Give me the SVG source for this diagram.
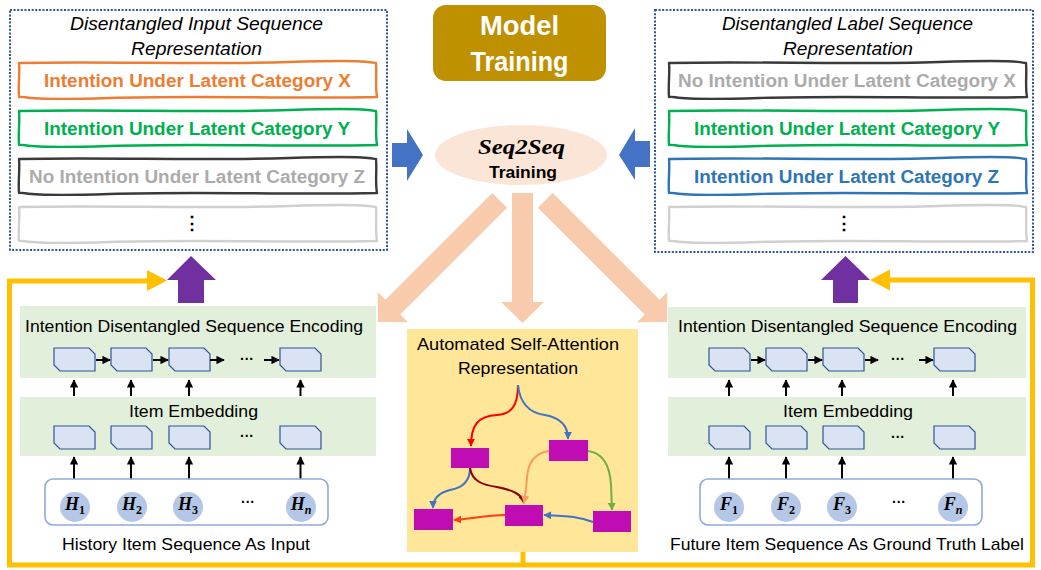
<svg xmlns="http://www.w3.org/2000/svg" xmlns:xlink="http://www.w3.org/1999/xlink" width="1041" height="570" viewBox="0 0 1041 570">
  <style>
    text { font-family: "Liberation Sans", Arial, sans-serif; fill: #000; }
    .ttl { font-style: italic; font-size: 18px; text-anchor: middle; }
    .lbl { font-weight: bold; font-size: 18px; text-anchor: middle; }
    .cap { font-size: 17px; text-anchor: middle; }
    .dots { font-weight: bold; font-size: 14px; text-anchor: middle; }
    .sym { font-family: "Liberation Serif", "Times New Roman", serif; font-weight: bold; font-style: italic; font-size: 18px; text-anchor: middle; }
    .sub { font-style: normal; font-size: 12px; }
    .dotted { fill: #fff; stroke: #2F5597; stroke-width: 2; stroke-dasharray: 2 1.6; }
    .wavy { fill: #fff; stroke-width: 2.4; stroke-linejoin: round; }
    .band { fill: #E2EFDA; }
    .cell { fill: #DAE3F3; stroke: #2F5597; stroke-width: 1.2; }
    .seqbox { fill: #fff; stroke: #8FAADC; stroke-width: 1.6; }
    .item { fill: #B4C7E7; }
    .blk { stroke: #000; stroke-width: 2; fill: none; }
    .yl { stroke: #FFC000; stroke-width: 5; fill: none; }
    .peach { fill: #F8CBAD; }
    .node { fill: #C00DB3; }
    .att { fill: none; stroke-width: 2; }
  </style>
  <defs>
    <!-- hand-drawn outline for the representation rows -->
    <path id="wbox" d="M0,0 C90,-2 180,2 270,-1 S350,0 357,0 C358,12 356,23 358,34 C270,36 180,32 90,35 S10,33 0,34 C-1,22 1,11 0,0 Z"/>
    <!-- snipped-corner embedding cell -->
    <path id="cell" d="M0,0 H35 L41,6 V23 H6 L0,17 Z"/>
    <!-- wide block arrow, tip at origin, pointing down -->
    <polygon id="bigArrow" points="-10.5,-172 10.5,-172 10.5,-21 21.5,-21 0,0 -21.5,-21 -10.5,-21"/>
    <marker id="mBlk" viewBox="0 0 10 10" refX="9" refY="5" markerWidth="4.2" markerHeight="4.2" orient="auto" markerUnits="strokeWidth">
      <path d="M0,0 L10,5 L0,10 Z" fill="#000"/>
    </marker>
    <marker id="mRed" viewBox="0 0 10 10" refX="9" refY="5" markerWidth="4" markerHeight="4" orient="auto" markerUnits="strokeWidth">
      <path d="M0,0 L10,5 L0,10 Z" fill="#FF0000"/>
    </marker>
    <marker id="mBlue" viewBox="0 0 10 10" refX="9" refY="5" markerWidth="4" markerHeight="4" orient="auto" markerUnits="strokeWidth">
      <path d="M0,0 L10,5 L0,10 Z" fill="#4472C4"/>
    </marker>
    <marker id="mDark" viewBox="0 0 10 10" refX="9" refY="5" markerWidth="4" markerHeight="4" orient="auto" markerUnits="strokeWidth">
      <path d="M0,0 L10,5 L0,10 Z" fill="#8B0000"/>
    </marker>
    <marker id="mOrange" viewBox="0 0 10 10" refX="9" refY="5" markerWidth="4" markerHeight="4" orient="auto" markerUnits="strokeWidth">
      <path d="M0,0 L10,5 L0,10 Z" fill="#F79B5E"/>
    </marker>
    <marker id="mGreen" viewBox="0 0 10 10" refX="9" refY="5" markerWidth="4" markerHeight="4" orient="auto" markerUnits="strokeWidth">
      <path d="M0,0 L10,5 L0,10 Z" fill="#70AD47"/>
    </marker>
    <marker id="mRedOr" viewBox="0 0 10 10" refX="9" refY="5" markerWidth="4" markerHeight="4" orient="auto" markerUnits="strokeWidth">
      <path d="M0,0 L10,5 L0,10 Z" fill="#FF3C14"/>
    </marker>
  </defs>

  <rect width="1041" height="570" fill="#fff"/>

  <!-- feedback loop and flow connectors -->
  <g id="connectors">
    <path class="yl" d="M9.5,565 V281 H150"/>
    <polygon points="147,270 167,280.5 147,291" fill="#FFC000"/>
    <path class="yl" d="M1032.5,565 V280 H889"/>
    <polygon points="890,269.5 870,280 890,290.5" fill="#FFC000"/>
    <path class="yl" d="M7,565 H1035"/>
    <path class="yl" d="M523,552 V565"/>

    <!-- purple: encodings up to representations -->
    <polygon points="178,303 204,303 204,280 216,280 191,256 167,280 178,280" fill="#7030A0"/>
    <polygon points="833,303 858,303 858,280 870,280 845.5,256 821,280 833,280" fill="#7030A0"/>

    <!-- blue: representations into Seq2Seq -->
    <polygon points="392,143 407,143 407,129 423,155 407,181 407,167 392,167" fill="#4472C4"/>
    <polygon points="650,141 635,141 635,128 619,155 635,180 635,167 650,167" fill="#4472C4"/>

    <!-- peach: training drives the three modules -->
    <use href="#bigArrow" class="peach" transform="translate(378,322) rotate(45)"/>
    <polygon class="peach" points="512,193 533,193 533,302 544,302 522.5,323 501,302 512,302"/>
    <use href="#bigArrow" class="peach" transform="translate(667,322) rotate(-45)"/>
  </g>

  <!-- input-side representation -->
  <g id="input-representation">
    <rect class="dotted" x="10" y="10" width="377" height="240"/>
    <text class="ttl" x="196.5" y="29.5" textLength="253" lengthAdjust="spacingAndGlyphs">Disentangled Input Sequence</text>
    <text class="ttl" x="196.5" y="54.5" textLength="131" lengthAdjust="spacingAndGlyphs">Representation</text>
    <use href="#wbox" class="wavy" x="19" y="63" stroke="#ED7D31"/>
    <text class="lbl" x="197.5" y="87" style="fill:#ED7D31" textLength="307" lengthAdjust="spacingAndGlyphs">Intention Under Latent Category X</text>
    <use href="#wbox" class="wavy" x="19" y="111" stroke="#00B050"/>
    <text class="lbl" x="197" y="135" style="fill:#00B050" textLength="306" lengthAdjust="spacingAndGlyphs">Intention Under Latent Category Y</text>
    <use href="#wbox" class="wavy" x="19" y="159" stroke="#3A3A3A"/>
    <text class="lbl" x="197" y="183" style="fill:#ABABAB" textLength="336" lengthAdjust="spacingAndGlyphs">No Intention Under Latent Category Z</text>
    <use href="#wbox" class="wavy" x="19" y="207" stroke="#D0D0D0"/>
    <text class="dots" x="192" y="229" style="font-size:18px">⋮</text>
  </g>

  <!-- label-side representation -->
  <g id="label-representation">
    <rect class="dotted" x="655" y="10" width="378" height="242"/>
    <text class="ttl" x="847.5" y="29.5" textLength="251" lengthAdjust="spacingAndGlyphs">Disentangled Label Sequence</text>
    <text class="ttl" x="848" y="54.5" textLength="130" lengthAdjust="spacingAndGlyphs">Representation</text>
    <use href="#wbox" class="wavy" x="669" y="63" stroke="#3A3A3A"/>
    <text class="lbl" x="847" y="87" style="fill:#ABABAB" textLength="338" lengthAdjust="spacingAndGlyphs">No Intention Under Latent Category X</text>
    <use href="#wbox" class="wavy" x="669" y="111" stroke="#00B050"/>
    <text class="lbl" x="847" y="135" style="fill:#00B050" textLength="306" lengthAdjust="spacingAndGlyphs">Intention Under Latent Category Y</text>
    <use href="#wbox" class="wavy" x="669" y="159" stroke="#2E75B6"/>
    <text class="lbl" x="846.5" y="183" style="fill:#2E75B6" textLength="305" lengthAdjust="spacingAndGlyphs">Intention Under Latent Category Z</text>
    <use href="#wbox" class="wavy" x="669" y="207" stroke="#D0D0D0"/>
    <text class="dots" x="844" y="229" style="font-size:18px">⋮</text>
  </g>

  <!-- header -->
  <g id="model-training">
    <rect x="433" y="5" width="173" height="76" rx="13" fill="#BF9000"/>
    <text x="519.5" y="35" style="fill:#fff;font-weight:bold;font-size:27px;text-anchor:middle" textLength="79" lengthAdjust="spacingAndGlyphs">Model</text>
    <text x="519.5" y="71" style="fill:#fff;font-weight:bold;font-size:27px;text-anchor:middle" textLength="98" lengthAdjust="spacingAndGlyphs">Training</text>
  </g>

  <!-- Seq2Seq objective -->
  <g id="seq2seq">
    <ellipse cx="521" cy="155" rx="86" ry="30" fill="#FBE5D6"/>
    <text class="sym" x="521.5" y="154" style="font-size:21px" textLength="87" lengthAdjust="spacingAndGlyphs">Seq2Seq</text>
    <text x="523" y="178" style="font-weight:bold;font-size:17px;text-anchor:middle" textLength="68" lengthAdjust="spacingAndGlyphs">Training</text>
  </g>

  <!-- history encoder -->
  <g id="history-encoder">
    <rect class="band" x="20" y="306" width="356" height="72"/>
    <text class="cap" x="194" y="332" textLength="338" lengthAdjust="spacingAndGlyphs">Intention Disentangled Sequence Encoding</text>
    <use href="#cell" class="cell" x="54" y="348"/>
    <use href="#cell" class="cell" x="111" y="348"/>
    <use href="#cell" class="cell" x="169" y="348"/>
    <use href="#cell" class="cell" x="280" y="348"/>
    <path class="blk" d="M96,360 H110" marker-end="url(#mBlk)"/>
    <path class="blk" d="M153,360 H168" marker-end="url(#mBlk)"/>
    <path class="blk" d="M210,360 H224" marker-end="url(#mBlk)"/>
    <text class="dots" x="247" y="364">···</text>
    <path class="blk" d="M264,360 H279" marker-end="url(#mBlk)"/>

    <path class="blk" d="M74,396 V380" marker-end="url(#mBlk)"/>
    <path class="blk" d="M131,396 V380" marker-end="url(#mBlk)"/>
    <path class="blk" d="M189,396 V380" marker-end="url(#mBlk)"/>
    <path class="blk" d="M300.5,396 V380" marker-end="url(#mBlk)"/>

    <rect class="band" x="20" y="397" width="356" height="59"/>
    <text class="cap" x="193.5" y="417" textLength="129" lengthAdjust="spacingAndGlyphs">Item Embedding</text>
    <use href="#cell" class="cell" x="54" y="426"/>
    <use href="#cell" class="cell" x="111" y="426"/>
    <use href="#cell" class="cell" x="169" y="426"/>
    <use href="#cell" class="cell" x="280" y="426"/>
    <text class="dots" x="247" y="441">···</text>

    <path class="blk" d="M74,480 V457" marker-end="url(#mBlk)"/>
    <path class="blk" d="M131,480 V457" marker-end="url(#mBlk)"/>
    <path class="blk" d="M189,480 V457" marker-end="url(#mBlk)"/>
    <path class="blk" d="M300.5,480 V457" marker-end="url(#mBlk)"/>

    <rect class="seqbox" x="45" y="479" width="283" height="46" rx="8"/>
    <circle class="item" cx="75" cy="507" r="15"/>
    <circle class="item" cx="132" cy="507" r="15"/>
    <circle class="item" cx="188" cy="507" r="15"/>
    <circle class="item" cx="301" cy="507" r="15"/>
    <text class="sym" x="75" y="510">H<tspan class="sub" dy="4">1</tspan></text>
    <text class="sym" x="132" y="510">H<tspan class="sub" dy="4">2</tspan></text>
    <text class="sym" x="188" y="510">H<tspan class="sub" dy="4">3</tspan></text>
    <text class="sym" x="301" y="510">H<tspan class="sub" dy="4" style="font-style:italic">n</tspan></text>
    <text class="dots" x="248" y="507">···</text>
    <text class="cap" x="186" y="550" textLength="248" lengthAdjust="spacingAndGlyphs">History Item Sequence As Input</text>
  </g>

  <!-- self-attention module -->
  <g id="self-attention">
    <rect x="407" y="329" width="231" height="223" fill="#FFE699"/>
    <text class="cap" x="518" y="350" textLength="202" lengthAdjust="spacingAndGlyphs">Automated Self-Attention</text>
    <text class="cap" x="518" y="374" textLength="120" lengthAdjust="spacingAndGlyphs">Representation</text>
    <path class="att" stroke="#FF0000" d="M518,385 C518,405 512,414 497,415 C478,416 471,425 471,446" marker-end="url(#mRed)"/>
    <path class="att" stroke="#4472C4" d="M518,385 C520,405 530,413 545,415 C562,418 568,427 568,439" marker-end="url(#mBlue)"/>
    <path class="att" stroke="#4472C4" d="M470,468 C470,482 462,488 450,490 C438,493 433,500 433,508" marker-end="url(#mBlue)"/>
    <path class="att" stroke="#8B0000" d="M470,468 C472,482 484,485 497,487 C512,490 522,494 524,503" marker-end="url(#mDark)"/>
    <path class="att" stroke="#F79B5E" d="M549,451 C535,453 528,462 527,478 C526,490 525,497 524,503" marker-end="url(#mOrange)"/>
    <path class="att" stroke="#70AD47" d="M588,451 C604,453 610,468 611,485 L612,510" marker-end="url(#mGreen)"/>
    <path class="att" stroke="#4472C4" d="M593,522 C580,517 570,516 544,515" marker-end="url(#mBlue)"/>
    <path class="att" stroke="#FF3C14" d="M505,515 C488,515 470,519 454,520" marker-end="url(#mRedOr)"/>
    <rect class="node" x="451" y="448" width="38" height="20"/>
    <rect class="node" x="549" y="440" width="39" height="21"/>
    <rect class="node" x="414" y="509" width="39" height="21"/>
    <rect class="node" x="505" y="505" width="38" height="21"/>
    <rect class="node" x="593" y="511" width="38" height="21"/>
  </g>

  <!-- future encoder -->
  <g id="future-encoder">
    <rect class="band" x="668" y="307" width="358" height="71"/>
    <text class="cap" x="847.5" y="332" textLength="339" lengthAdjust="spacingAndGlyphs">Intention Disentangled Sequence Encoding</text>
    <use href="#cell" class="cell" x="709" y="348"/>
    <use href="#cell" class="cell" x="766" y="348"/>
    <use href="#cell" class="cell" x="823" y="348"/>
    <use href="#cell" class="cell" x="934" y="348"/>
    <path class="blk" d="M751,360 H765" marker-end="url(#mBlk)"/>
    <path class="blk" d="M808,360 H822" marker-end="url(#mBlk)"/>
    <path class="blk" d="M865,360 H878" marker-end="url(#mBlk)"/>
    <text class="dots" x="898" y="364">···</text>
    <path class="blk" d="M919,360 H933" marker-end="url(#mBlk)"/>

    <path class="blk" d="M729,396 V380" marker-end="url(#mBlk)"/>
    <path class="blk" d="M786,396 V380" marker-end="url(#mBlk)"/>
    <path class="blk" d="M842,396 V380" marker-end="url(#mBlk)"/>
    <path class="blk" d="M953,396 V380" marker-end="url(#mBlk)"/>

    <rect class="band" x="668" y="397" width="358" height="59"/>
    <text class="cap" x="848" y="417" textLength="130" lengthAdjust="spacingAndGlyphs">Item Embedding</text>
    <use href="#cell" class="cell" x="709" y="426"/>
    <use href="#cell" class="cell" x="766" y="426"/>
    <use href="#cell" class="cell" x="823" y="426"/>
    <use href="#cell" class="cell" x="934" y="426"/>
    <text class="dots" x="898" y="442">···</text>

    <path class="blk" d="M729,480 V457" marker-end="url(#mBlk)"/>
    <path class="blk" d="M786,480 V457" marker-end="url(#mBlk)"/>
    <path class="blk" d="M842,480 V457" marker-end="url(#mBlk)"/>
    <path class="blk" d="M953,480 V457" marker-end="url(#mBlk)"/>

    <rect class="seqbox" x="700" y="479" width="282" height="46" rx="8"/>
    <circle class="item" cx="729" cy="507" r="15"/>
    <circle class="item" cx="786" cy="507" r="15"/>
    <circle class="item" cx="842" cy="507" r="15"/>
    <circle class="item" cx="953" cy="507" r="15"/>
    <text class="sym" x="729" y="510">F<tspan class="sub" dy="4">1</tspan></text>
    <text class="sym" x="786" y="510">F<tspan class="sub" dy="4">2</tspan></text>
    <text class="sym" x="842" y="510">F<tspan class="sub" dy="4">3</tspan></text>
    <text class="sym" x="953" y="510">F<tspan class="sub" dy="4" style="font-style:italic">n</tspan></text>
    <text class="dots" x="899" y="507">···</text>
    <text class="cap" x="847" y="550" textLength="354" lengthAdjust="spacingAndGlyphs">Future Item Sequence As Ground Truth Label</text>
  </g>
</svg>
